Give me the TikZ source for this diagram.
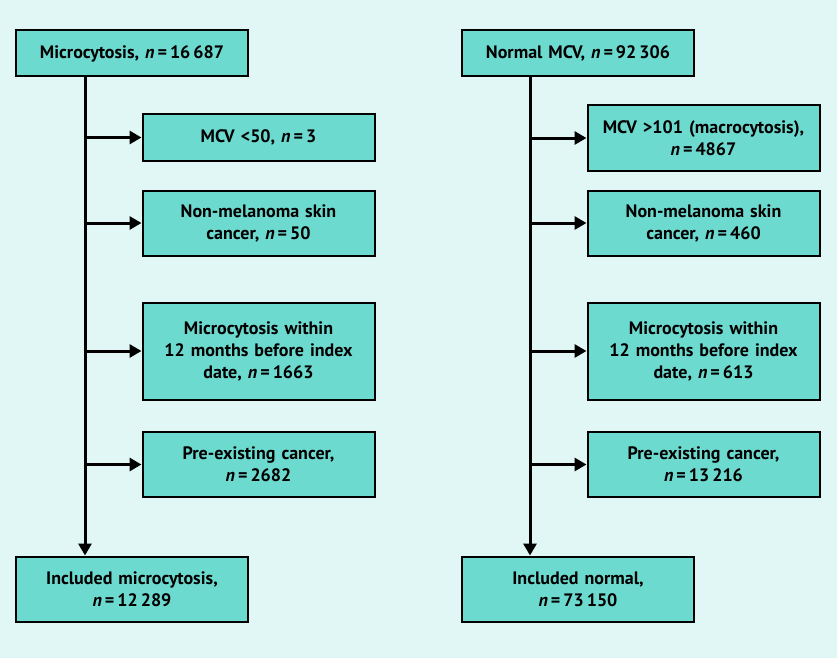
\documentclass[tikz,border=0pt]{standalone}
\usepackage{fontspec}
\setmainfont{PT Sans}
\usetikzlibrary{arrows.meta,positioning,calc}
\definecolor{bgmint}{RGB}{224,247,245}
\definecolor{boxteal}{RGB}{109,218,208}
\tikzset{
    -{Triangle[length=12pt,width=13pt]},
    box/.style ={rectangle, draw, fill=boxteal, line width=2pt, minimum width=232pt,
                 text width=220pt, align=center, inner sep=0pt,
                 font=\bfseries\fontsize{18}{22}\selectfont},
    one/.style = {box, minimum height=46pt},
    two/.style = {box, minimum height=65pt},
    three/.style = {box, minimum height=97pt}
}
\newcommand{\nn}{\textit{n}\,=\,}

\begin{document}
\begin{tikzpicture}[x=1pt,y=-1pt,line width=3pt]
    \fill[bgmint] (0,0) rectangle (837,658);
    \useasboundingbox (0,0) rectangle (837,658);

    % Microcytosis arm
    \node[one] (micro) at (132,53.5) {Microcytosis, \nn16\,687};
    \node[one] (mcvlow) at (258.5,137.5) {MCV <50, \nn3};
    \node[two] (nmscL) at (258.5,223) {Non-melanoma skin\\cancer, \nn50};
    \node[three] (withinL) at (258.5,351) {Microcytosis within\\12 months before index\\date, \nn1663};
    \node[two] (preL) at (258.5,464.5) {Pre-existing cancer,\\\nn2682};
    \node[two] (inclMicro) at (132,589) {Included microcytosis,\\\nn12\,289};

    % Normal MCV arm
    \node[one] (normal) at (578,53.5) {Normal MCV, \nn92\,306};
    \node[two] (macro) at (703.5,138) {MCV >101 (macrocytosis),\\\nn4867};
    \node[two] (nmscR) at (703.5,223) {Non-melanoma skin\\cancer, \nn460};
    \node[three] (withinR) at (703.5,351) {Microcytosis within\\12 months before index\\date, \nn613};
    \node[two] (preR) at (703.5,464.5) {Pre-existing cancer,\\\nn13\,216};
    \node[two] (inclNorm) at (578,589) {Included normal,\\\nn73\,150};

    % Trunks
    \coordinate (trunkL) at ($(micro.south west)+(70,0)$);
    \coordinate (trunkR) at ($(normal.south west)+(69,0)$);
    \draw (trunkL) -- (trunkL |- inclMicro.north);
    \draw (trunkR) -- (trunkR |- inclNorm.north);

    % Exclusions
    \foreach \ex in {mcvlow,nmscL,withinL,preL}
        \draw (trunkL |- \ex.west) -- (\ex.west);
    \foreach \ex in {macro,nmscR,withinR,preR}
        \draw (trunkR |- \ex.west) -- (\ex.west);
\end{tikzpicture}
\end{document}
